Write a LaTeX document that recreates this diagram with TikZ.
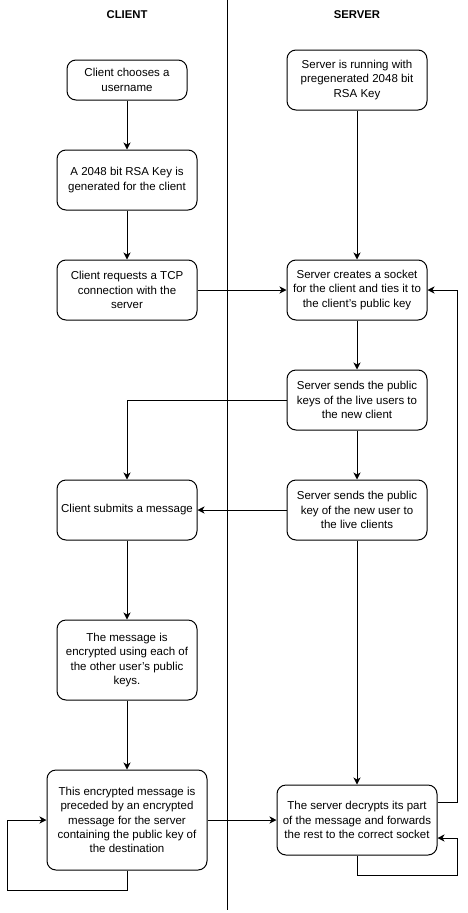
\documentclass[tikz,border=0pt]{standalone}
\usepackage{fontspec}
\setmainfont{Liberation Sans}
\usetikzlibrary{arrows.meta}
\begin{document}
\begin{tikzpicture}[x=1pt,y=-1pt,
  box/.style={draw,line width=1pt,rounded corners=9pt,align=center,inner sep=0pt,
    font=\fontsize{11.5}{14.3}\selectfont},
  title/.style={font=\fontsize{11.3}{14}\selectfont\bfseries},
  arr/.style={line width=1pt,-{Stealth[length=7pt,width=7pt,inset=2pt]}},
  ln/.style={line width=1pt}]
\useasboundingbox (0,0) rectangle (467,913);
% divider
\coordinate (dtop) at (227,0);
\coordinate (dbot) at (227,910);
\draw[ln] (dtop) -- (dbot);
\node[title] (tc) at (127,15) {CLIENT};
\node[title] (ts) at (357,15) {SERVER};
% client column
\node[box,minimum width=120pt,minimum height=40pt] (c1) at (127,80) {Client chooses a\\username};
\node[box,minimum width=140pt,minimum height=60pt] (c2) at (127,180) {A 2048 bit RSA Key is\\generated for the client};
\node[box,minimum width=140pt,minimum height=60pt] (c3) at (127,290) {Client requests a TCP\\connection with the\\server};
\node[box,minimum width=140pt,minimum height=60pt] (c4) at (127,510) {Client submits a message};
\node[box,minimum width=140pt,minimum height=80pt] (c5) at (127,660) {The message is\\encrypted using each of\\the other user's public\\keys.};
\node[box,minimum width=160pt,minimum height=100pt] (c6) at (127,820) {This encrypted message is\\preceded by an encrypted\\message for the server\\containing the public key of\\the destination};
% server column
\node[box,minimum width=140pt,minimum height=60pt] (s1) at (357,80) {Server is running with\\pregenerated 2048 bit\\RSA Key};
\node[box,minimum width=140pt,minimum height=60pt] (s2) at (357,290) {Server creates a socket\\for the client and ties it to\\the client's public key};
\node[box,minimum width=140pt,minimum height=60pt] (s3) at (357,400) {Server sends the public\\keys of the live users to\\the new client};
\node[box,minimum width=140pt,minimum height=60pt] (s4) at (357,510) {Server sends the public\\key of the new user to\\the live clients};
\node[box,minimum width=160pt,minimum height=70pt] (s5) at (357,820) {The server decrypts its part\\of the message and forwards\\the rest to the correct socket};
% connectors
\draw[arr] (c1) -- (c2);
\draw[arr] (c2) -- (c3);
\draw[arr] (c3) -- (s2);
\draw[arr] (s1) -- (s2);
\draw[arr] (s2) -- (s3);
\draw[arr] (s3.west) -| (c4.north);
\draw[arr] (s3) -- (s4);
\draw[arr] (s4) -- (c4);
\draw[arr] (c4) -- (c5);
\draw[arr] (c5) -- (c6);
\draw[arr] (s4) -- (s5);
\draw[arr] (c6) -- (s5);
\draw[arr] (c6.south) -- (127,890) -- (7,890) |- (c6.west);
\draw[arr] ([yshift=18pt]s5.east) -- (457,802) |- (s2.east);
\draw[arr] (s5.south) -- (357,875) -- (457,875) |- ([yshift=-18pt]s5.east);
\end{tikzpicture}
\end{document}
